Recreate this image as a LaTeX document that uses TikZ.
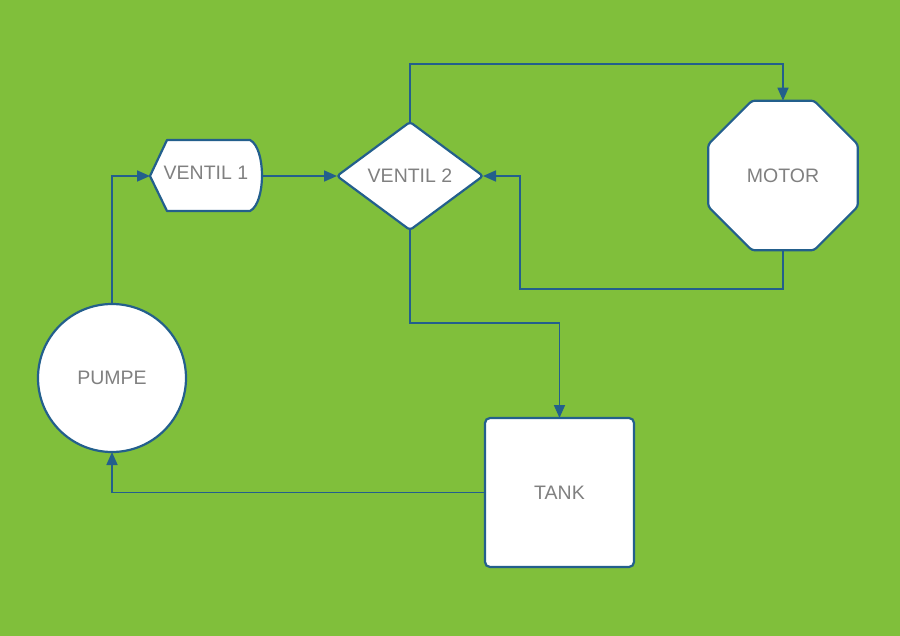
\documentclass[tikz,border=0pt]{standalone}
\usepackage{fontspec}
\setmainfont{Liberation Sans}
\usetikzlibrary{shapes.geometric,arrows.meta}
\definecolor{bg}{HTML}{80BF3B}
\definecolor{edge}{HTML}{235F8C}
\definecolor{lbl}{HTML}{808080}
\begin{document}
\begin{tikzpicture}[x=1pt,y=-1pt,
  shp/.style={draw=edge,line width=2.2pt,fill=white,inner sep=0pt,outer sep=0pt,
    text=lbl,font=\fontsize{19.5}{22}\selectfont},
  conn/.style={draw=edge,line width=1.7pt,-{Triangle[length=13pt,width=11pt]}}]
\fill[bg] (0,0) rectangle (900,636);
\useasboundingbox (0,0) rectangle (900,636);
% nodes
\node[shp,draw=none,fill=none,minimum width=112pt,minimum height=71pt] (v1) at (206,176) {};
\filldraw[draw=edge,fill=white,line width=2.2pt,line join=round]
  (v1.west) -- (167,140) -- (250,140) .. controls (266,148) and (266,203) .. (250,211) -- (167,211) -- cycle;
\node[text=lbl,font=\fontsize{19.5}{22}\selectfont] at (206,173) {VENTIL 1};
\node[shp,diamond,minimum width=146pt,minimum height=108pt,rounded corners=3pt] (v2) at (410,176) {VENTIL 2};
\node[shp,regular polygon,regular polygon sides=8,minimum size=162pt,rounded corners=3pt] (m) at (783,175.5) {MOTOR};
\node[shp,circle,minimum size=148pt] (p) at (112,378) {PUMPE};
\node[shp,rectangle,rounded corners=5pt,minimum width=149pt,minimum height=149pt] (t) at (559.5,492.5) {TANK};
% connectors
\draw[conn] (p.north) |- (v1.west);
\draw[conn] (v1.east) -- (v2.west);
\draw[conn] (v2.north) -- (410,64) -| (m.north);
\draw[conn] (m.south) -- (783,289) -- (520,289) -- (520,176) -- (v2.east);
\draw[conn] (v2.south) -- (410,323) -| (t.north);
\draw[conn] (t.west) -| (p.south);
\end{tikzpicture}
\end{document}
